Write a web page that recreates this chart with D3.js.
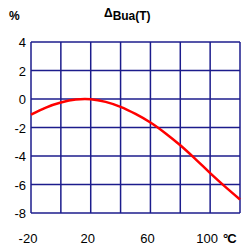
<!DOCTYPE html>
<html>
<head>
<meta charset="utf-8">
<script src="https://cdn.jsdelivr.net/npm/d3@7"></script>
<style>
	body { margin: 0; background: #fff; }
	text { font-family: "Liberation Sans", Arial, sans-serif; fill: #000; }
</style>
</head>
<body>
<svg id="chart" width="242" height="247"></svg>
<script>
(function() {
	// temperature in °C, deviation in %
	const temps = [-20, -10, 0, 10, 20, 30, 40, 50, 60, 70, 80, 90, 100, 110, 120];
	const values = [-1.1, -0.6, -0.25, -0.04, -0.02, -0.2, -0.55, -1.05, -1.65, -2.4, -3.25, -4.2, -5.2, -6.15, -7.05];
	const xGrid = [-20, 0, 20, 40, 60, 80, 100, 120];
	const xLabels = [-20, 20, 60, 100];
	const yTicks = [4, 2, 0, -2, -4, -6, -8];

	let svg = d3.select("#chart");
	let x = d3.scaleLinear().domain([-20, 120]).range([31, 240]);
	let y = d3.scaleLinear().domain([-8, 4]).range([213, 42]);
	let navy = "#1c1c8c";

	// grid
	svg.selectAll(".vline")
		.data(xGrid)
		.enter()
		.append("line")
		.attr("x1", d => x(d)).attr("x2", d => x(d))
		.attr("y1", y(4)).attr("y2", y(-8))
		.attr("stroke", navy)
		.attr("stroke-width", 1.5);

	svg.selectAll(".hline")
		.data(yTicks)
		.enter()
		.append("line")
		.attr("x1", x(-20)).attr("x2", x(120))
		.attr("y1", d => y(d)).attr("y2", d => y(d))
		.attr("stroke", navy)
		.attr("stroke-width", 1.5);

	// y labels
	svg.selectAll(".ylab")
		.data(yTicks)
		.enter()
		.append("text")
		.attr("x", 26)
		.attr("y", d => y(d) + 5)
		.attr("text-anchor", "end")
		.style("font-size", "13px")
		.text(d => d);

	// x labels
	svg.selectAll(".xlab")
		.data(xLabels)
		.enter()
		.append("text")
		.attr("x", d => x(d) - 3)
		.attr("y", 243)
		.attr("text-anchor", "middle")
		.style("font-size", "13px")
		.text(d => d);

	svg.append("text")
		.attr("x", 223)
		.attr("y", 243)
		.style("font-size", "13px")
		.style("font-weight", "bold")
		.style("letter-spacing", "-1px")
		.text("°C");

	// axis unit and title
	svg.append("text")
		.attr("x", 9)
		.attr("y", 20)
		.style("font-size", "12px")
		.style("font-weight", "bold")
		.text("%");

	let title = svg.append("text")
		.attr("x", 104)
		.attr("y", 17)
		.style("font-weight", "bold");
	title.append("tspan").style("font-size", "12px").text("Δ");
	title.append("tspan").attr("dy", 3).style("font-size", "12px").text("Bua(T)");

	// curve
	let line = d3.line()
		.x((d, i) => x(temps[i]))
		.y(d => y(d))
		.curve(d3.curveCatmullRom);

	svg.append("path")
		.datum(values)
		.attr("d", line)
		.attr("fill", "none")
		.attr("stroke", "#ff0000")
		.attr("stroke-width", 2.5);
})();
</script>
</body>
</html>
